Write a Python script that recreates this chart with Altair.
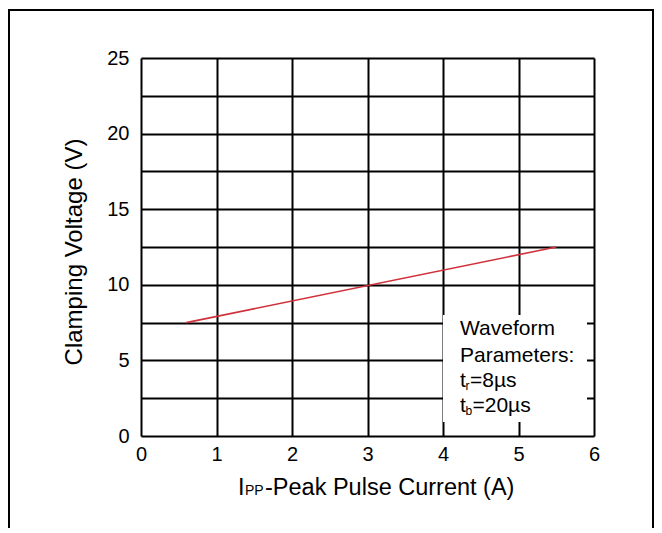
import altair as alt
import pandas as pd

# Data
current_a = [0.6, 5.5]
clamp_v = [7.5, 12.5]
x_ticks = [0, 1, 2, 3, 4, 5, 6]
y_ticks = [0, 2.5, 5, 7.5, 10, 12.5, 15, 17.5, 20, 22.5, 25]

df = pd.DataFrame({"I": current_a, "V": clamp_v})
one = alt.Data(values=[{"k": 1}])
FONT = "Liberation Sans"

line = alt.Chart(df).mark_line(color="#d0303a", strokeWidth=1.6).encode(
    x=alt.X("I:Q", scale=alt.Scale(domain=[0, 6], nice=False),
            axis=alt.Axis(values=x_ticks, title=None, labelFontSize=20, labelFont=FONT,
                          labelColor="black", labelPadding=8, ticks=False, domain=False,
                          grid=True, gridColor="black", gridWidth=2, gridOpacity=1,
                          labelBaseline="top", labelFlush=False)),
    y=alt.Y("V:Q", scale=alt.Scale(domain=[0, 25], nice=False),
            axis=alt.Axis(values=y_ticks, title=None, labelFontSize=20, labelFont=FONT,
                          labelColor="black", labelPadding=12, ticks=False, domain=False,
                          grid=True, gridColor="black", gridWidth=2, gridOpacity=1,
                          labelFlush=False,
                          labelExpr="datum.value % 5 == 0 ? datum.label : ''")),
)

# white box behind the annotation
box = alt.Chart(one).mark_rect(fill="white", x=302, x2=446, y=257, y2=364)

def txt(s, x, y, size=21, **kw):
    return alt.Chart(one).mark_text(text=s, x=x, y=y, fontSize=size, font=FONT,
                                    color="black", align="left", baseline="alphabetic", **kw)

texts = [
    txt("Waveform", 319, 277),
    txt("Parameters:", 319, 304),
    txt("t", 319, 329), txt("r", 324.5, 332, 12), txt("=8µs", 329, 329),
    txt("t", 319, 354), txt("b", 324.5, 357, 12), txt("=20µs", 331.5, 354),
    # x axis title
    txt("I", 97, 437, 23.5), txt("PP", 104, 437, 14), txt("-Peak Pulse Current (A)", 124, 437, 23.5),
    # y axis title
    alt.Chart(one).mark_text(text="Clamping Voltage (V)", x=-66, y=194, angle=270,
                             fontSize=24, font=FONT, color="black",
                             align="center", baseline="middle"),
]

border = alt.Chart(one).mark_rect(fill=None, stroke="black", strokeWidth=2,
                                  x=-132, x2=512, y=-48, y2=540)

chart = alt.layer(line, box, *texts, border).properties(
    width=453, height=378,
    padding={"left": 133, "top": 50, "right": 60, "bottom": 92},
    autosize=alt.AutoSizeParams(type="none"),
).configure_view(stroke="black", strokeWidth=2).configure(background="white")

chart.save("out.html", embed_options={"renderer": "svg", "actions": False})
